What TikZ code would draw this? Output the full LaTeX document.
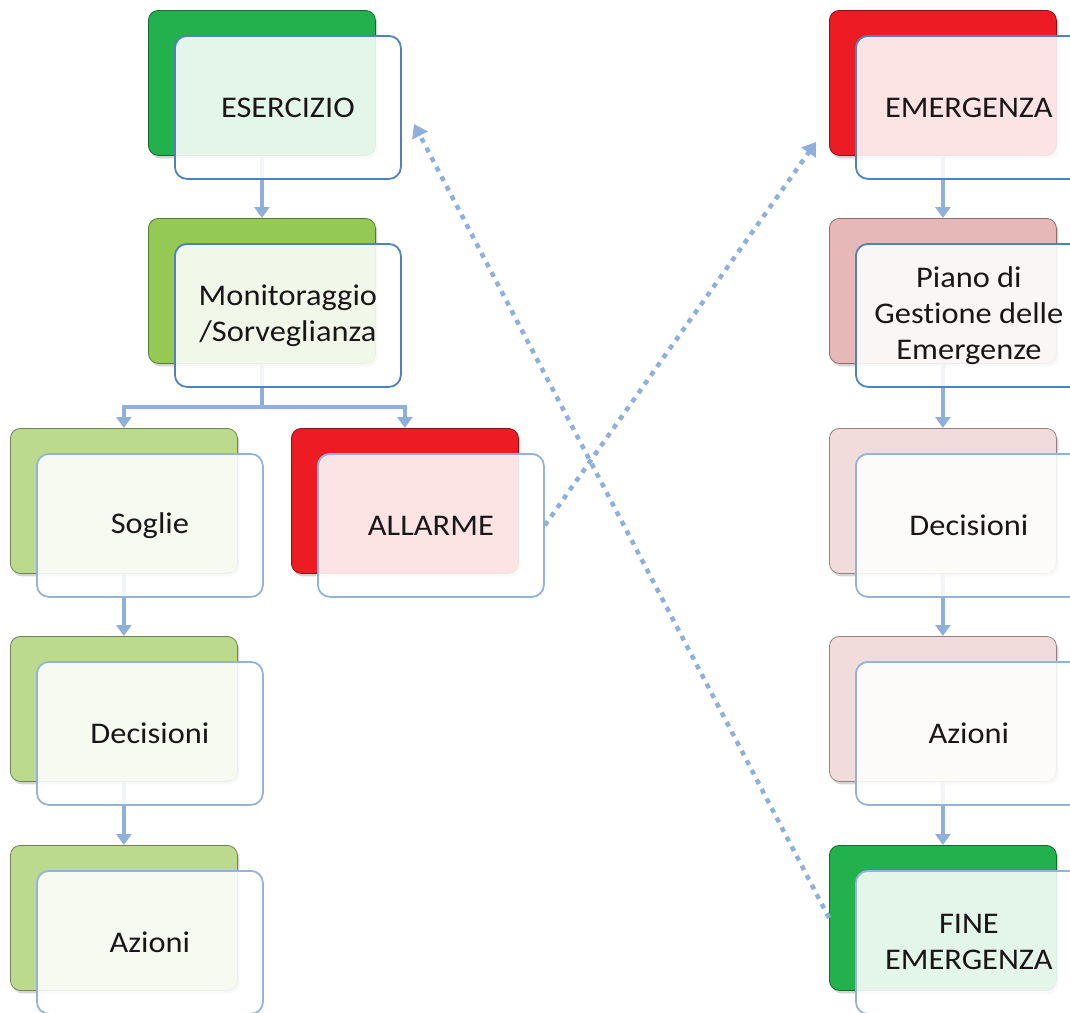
\documentclass[tikz,border=0pt]{standalone}
\usepackage{fontspec}
\setmainfont{Carlito}[FakeStretch=1.08, Ligatures=CommonOff]
\usetikzlibrary{arrows.meta,shadows}

\definecolor{gStrong}{HTML}{22B14C}
\definecolor{gMid}{HTML}{94C954}
\definecolor{gLight}{HTML}{BBDA8E}
\definecolor{rStrong}{HTML}{ED1C24}
\definecolor{rMid}{HTML}{E6B9B8}
\definecolor{rLight}{HTML}{F2DCDB}
\definecolor{bDark}{HTML}{4F81BD}
\definecolor{bLight}{HTML}{95B3D7}
\definecolor{connCol}{HTML}{8FB0DA}
\definecolor{txt}{HTML}{1A1617}

\begin{document}
\begin{tikzpicture}[x=1pt,y=-1pt,
  back/.style={rectangle, rounded corners=10pt, minimum width=227pt,
    minimum height=145pt, anchor=north west, fill=#1, draw=#1!60!black,
    line width=0.8pt,
    drop shadow={shadow xshift=2pt, shadow yshift=-3pt, opacity=0.35}},
  front/.style={rectangle, rounded corners=12pt, minimum width=226pt,
    minimum height=143pt, anchor=north west, fill=white, fill opacity=0.88,
    text opacity=1, draw=#1, draw opacity=1, line width=1.8pt,
    align=center, text=txt, font=\fontsize{30}{36}\selectfont},
  conn/.style={draw=connCol, line width=4pt,
    -{Triangle[width=15pt,length=11pt]}},
  dotconn/.style={draw=connCol, line width=4.5pt,
    dash pattern=on 5pt off 5.8pt,
    -{Triangle[width=17pt,length=13pt]}}
]
\useasboundingbox (0,0) rectangle (1070,1012);
\clip (0,0) rectangle (1070,1012);

% coloured back cards
\node[back=gStrong] (esB)   at (148,10)  {};
\node[back=gMid]    (monB)  at (148,218) {};
\node[back=gLight]  (sogB)  at (10,428)  {};
\node[back=rStrong] (allB)  at (291,428) {};
\node[back=gLight]  (decLB) at (10,636)  {};
\node[back=gLight]  (aziLB) at (10,845)  {};
\node[back=rStrong] (emeB)  at (829,10)  {};
\node[back=rMid]    (pgeB)  at (829,218) {};
\node[back=rLight]  (decRB) at (829,428) {};
\node[back=rLight]  (aziRB) at (829,636) {};
\node[back=gStrong] (fineB) at (829,845) {};

% solid connectors between the back cards
\draw[conn] (esB.south) -- (monB.north);
\draw[conn] (monB.south) -- ++(0,43) -| (sogB.north);
\draw[conn] (monB.south) -- ++(0,43) -| (allB.north);
\draw[conn] (sogB.south) -- (decLB.north);
\draw[conn] (decLB.south) -- (aziLB.north);
\draw[conn] (emeB.south) -- (pgeB.north);
\draw[conn] (pgeB.south) -- (decRB.north);
\draw[conn] (decRB.south) -- (aziRB.north);
\draw[conn] (aziRB.south) -- (fineB.north);

% translucent front cards with the labels
\node[front=bDark]  (esF)   at (174,35)  {ESERCIZIO};
\node[front=bDark]  (monF)  at (174,243) {Monitoraggio\\/Sorveglianza};
\node[front=bLight] (sogF)  at (36,453)  {Soglie};
\node[front=bLight] (allF)  at (317,453) {ALLARME};
\node[front=bLight] (decLF) at (36,661)  {Decisioni};
\node[front=bLight] (aziLF) at (36,870)  {Azioni};
\node[front=bDark]  (emeF)  at (855,35)  {EMERGENZA};
\node[front=bDark]  (pgeF)  at (855,243) {Piano di\\Gestione delle\\Emergenze};
\node[front=bLight] (decRF) at (855,453) {Decisioni};
\node[front=bLight] (aziRF) at (855,661) {Azioni};
\node[front=bLight] (fineF) at (855,870) {FINE\\EMERGENZA};

% dotted transitions
\coordinate (tipE) at (816,142);
\coordinate (tipS) at (414,124);
\draw[dotconn] (allF.east) -- (tipE);
\draw[dotconn] (fineB.west) -- (tipS);
\end{tikzpicture}
\end{document}
